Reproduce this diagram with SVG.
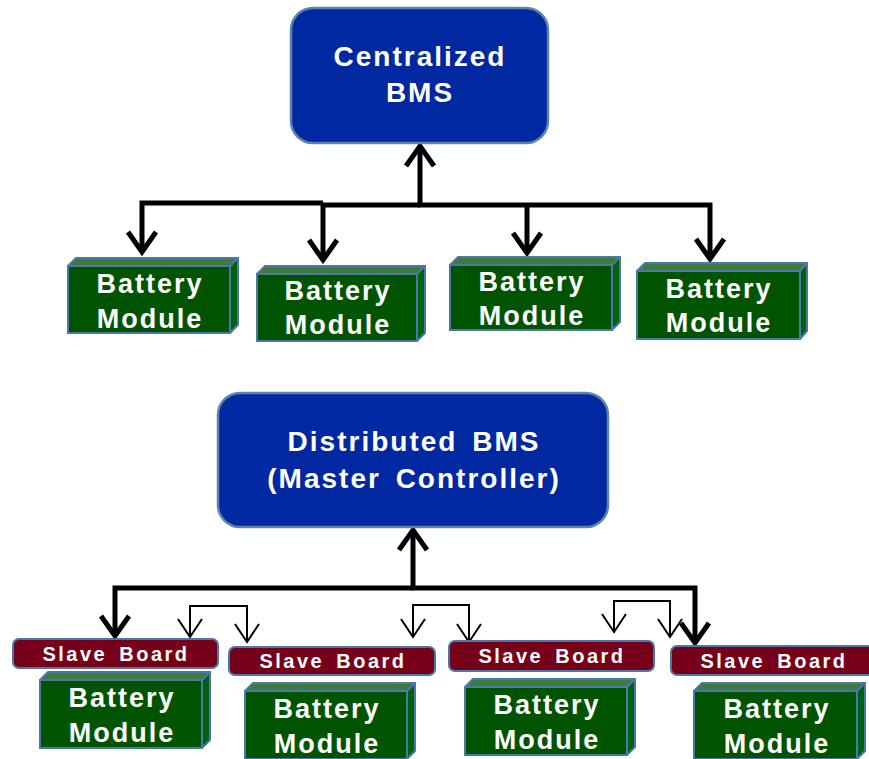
<svg xmlns="http://www.w3.org/2000/svg" width="869" height="759" viewBox="0 0 869 759">
  <style>
    .ctrl { fill: #0028A0; stroke: #5B84AE; stroke-width: 2.5; }
    .ctrl-t { fill: #fff; font-family: "Liberation Sans", Arial, sans-serif; font-weight: bold; font-size: 28px; letter-spacing: 2px; word-spacing: 5px; text-anchor: middle; }
    .front { fill: #005400; stroke: #4A78A8; stroke-width: 2; }
    .top { fill: #3E7A3E; stroke: #4A78A8; stroke-width: 2; stroke-linejoin: round; }
    .side { fill: #00620F; stroke: #4A78A8; stroke-width: 2; stroke-linejoin: round; }
    .mod-t { fill: #fff; font-family: "Liberation Sans", Arial, sans-serif; font-weight: bold; font-size: 27px; letter-spacing: 2px; text-anchor: middle; }
    .slave { fill: #76001A; stroke: #4A78A8; stroke-width: 2; }
    .slave-t { fill: #fff; font-family: "Liberation Sans", Arial, sans-serif; font-weight: bold; font-size: 20px; letter-spacing: 2.5px; word-spacing: 4px; text-anchor: middle; }
    .bus { fill: none; stroke: #000; stroke-width: 5; stroke-linejoin: miter; }
    .link { fill: none; stroke: #000; stroke-width: 2; }
  </style>
  <defs>
    <marker id="headBold" markerUnits="userSpaceOnUse" orient="auto" overflow="visible" markerWidth="1" markerHeight="1">
      <path d="M-20,-14 L0,0 L-20,14" fill="none" stroke="#000" stroke-width="5"/>
    </marker>
    <marker id="headThin" markerUnits="userSpaceOnUse" orient="auto-start-reverse" overflow="visible" markerWidth="1" markerHeight="1">
      <path d="M-18,-12 L0,0 L-18,12" fill="none" stroke="#000" stroke-width="2"/>
    </marker>
  </defs>

  <!-- connectors -->
  <g id="connectors">
    <!-- centralized bus -->
    <path class="bus" d="M420,205 V146" marker-end="url(#headBold)"/>
    <path class="bus" d="M420,205 H323 V260" marker-end="url(#headBold)"/>
    <path class="bus" d="M323,203 H142 V252" marker-end="url(#headBold)"/>
    <path class="bus" d="M418,205 H710 V259" marker-end="url(#headBold)"/>
    <path class="bus" d="M527,205 V253" marker-end="url(#headBold)"/>
    <!-- distributed bus -->
    <path class="bus" d="M413,588 V530" marker-end="url(#headBold)"/>
    <path class="bus" d="M413,588 H115 V636" marker-end="url(#headBold)"/>
    <path class="bus" d="M411,588 H695 V643" marker-end="url(#headBold)"/>
    <!-- slave-to-slave links -->
    <path class="link" d="M190,637 V606 H247 V642" marker-start="url(#headThin)" marker-end="url(#headThin)"/>
    <path class="link" d="M413,637 V605 H469 V642" marker-start="url(#headThin)" marker-end="url(#headThin)"/>
    <path class="link" d="M614,632 V601 H670 V637" marker-start="url(#headThin)" marker-end="url(#headThin)"/>
  </g>

  <!-- controllers -->
  <g id="centralized-bms">
    <rect class="ctrl" x="291" y="8" width="257" height="135" rx="22"/>
    <text class="ctrl-t" x="420" y="66">Centralized</text>
    <text class="ctrl-t" x="420" y="102">BMS</text>
  </g>
  <g id="distributed-bms">
    <rect class="ctrl" x="218" y="393" width="390" height="134" rx="22"/>
    <text class="ctrl-t" x="414" y="451">Distributed BMS</text>
    <text class="ctrl-t" x="414" y="488">(Master Controller)</text>
  </g>

  <!-- centralized battery modules -->
  <g id="module-c1">
    <polygon class="top" points="68,266 76,258 238,258 230,266"/>
    <polygon class="side" points="230,266 238,258 238,325 230,333"/>
    <rect class="front" x="68" y="266" width="162" height="67"/>
    <text class="mod-t" x="150" y="293">Battery</text>
    <text class="mod-t" x="150" y="328">Module</text>
  </g>
  <g id="module-c2">
    <polygon class="top" points="257,274 265,266 425,266 417,274"/>
    <polygon class="side" points="417,274 425,266 425,333 417,341"/>
    <rect class="front" x="257" y="274" width="160" height="67"/>
    <text class="mod-t" x="338" y="300">Battery</text>
    <text class="mod-t" x="338" y="334">Module</text>
  </g>
  <g id="module-c3">
    <polygon class="top" points="450,265 458,257 620,257 612,265"/>
    <polygon class="side" points="612,265 620,257 620,322 612,330"/>
    <rect class="front" x="450" y="265" width="162" height="65"/>
    <text class="mod-t" x="532" y="291">Battery</text>
    <text class="mod-t" x="532" y="325">Module</text>
  </g>
  <g id="module-c4">
    <polygon class="top" points="637,271 645,263 807,263 800,271"/>
    <polygon class="side" points="800,271 807,263 807,331 800,339"/>
    <rect class="front" x="637" y="271" width="163" height="68"/>
    <text class="mod-t" x="719" y="298">Battery</text>
    <text class="mod-t" x="719" y="332">Module</text>
  </g>

  <!-- slave boards -->
  <g id="slave-1">
    <rect class="slave" x="13" y="639" width="205" height="29" rx="6"/>
    <text class="slave-t" x="116" y="661">Slave Board</text>
  </g>
  <g id="slave-2">
    <rect class="slave" x="229" y="647" width="206" height="28" rx="6"/>
    <text class="slave-t" x="333" y="668">Slave Board</text>
  </g>
  <g id="slave-3">
    <rect class="slave" x="449" y="641" width="205" height="30" rx="6"/>
    <text class="slave-t" x="552" y="663">Slave Board</text>
  </g>
  <g id="slave-4">
    <rect class="slave" x="671" y="646" width="205" height="29" rx="6"/>
    <text class="slave-t" x="774" y="668">Slave Board</text>
  </g>

  <!-- distributed battery modules -->
  <g id="module-d1">
    <polygon class="top" points="40,680 48,672 210,672 202,680"/>
    <polygon class="side" points="202,680 210,672 210,740 202,748"/>
    <rect class="front" x="40" y="680" width="162" height="68"/>
    <text class="mod-t" x="122" y="707">Battery</text>
    <text class="mod-t" x="122" y="742">Module</text>
  </g>
  <g id="module-d2">
    <polygon class="top" points="245,691 253,683 415,683 407,691"/>
    <polygon class="side" points="407,691 415,683 415,751 407,759"/>
    <rect class="front" x="245" y="691" width="162" height="68"/>
    <text class="mod-t" x="327" y="718">Battery</text>
    <text class="mod-t" x="327" y="753">Module</text>
  </g>
  <g id="module-d3">
    <polygon class="top" points="465,687 473,679 635,679 627,687"/>
    <polygon class="side" points="627,687 635,679 635,747 627,755"/>
    <rect class="front" x="465" y="687" width="162" height="68"/>
    <text class="mod-t" x="547" y="714">Battery</text>
    <text class="mod-t" x="547" y="749">Module</text>
  </g>
  <g id="module-d4">
    <polygon class="top" points="694,691 702,683 865,683 857,691"/>
    <polygon class="side" points="857,691 865,683 865,751 857,759"/>
    <rect class="front" x="694" y="691" width="163" height="68"/>
    <text class="mod-t" x="777" y="718">Battery</text>
    <text class="mod-t" x="777" y="753">Module</text>
  </g>
</svg>
